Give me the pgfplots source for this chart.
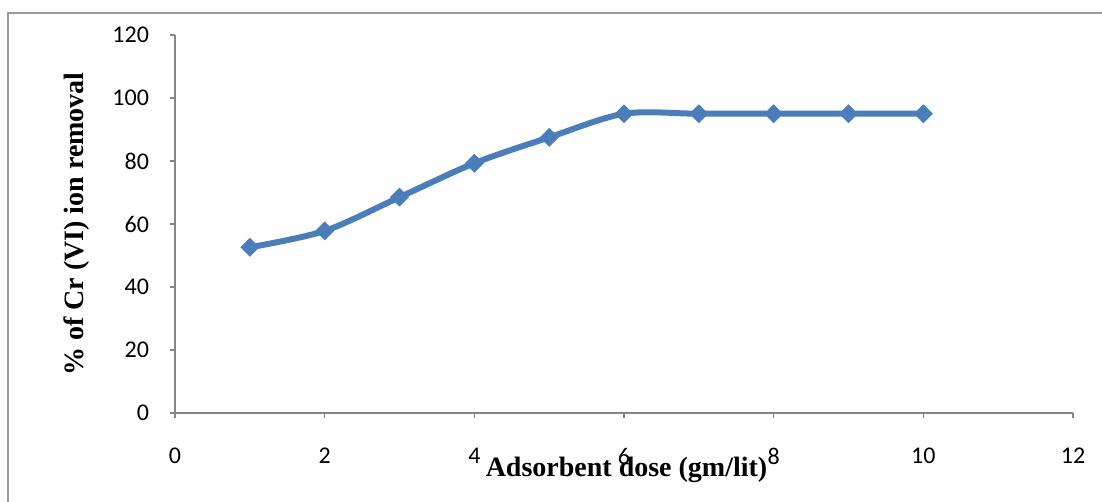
\documentclass[border=0pt]{standalone}
\usepackage{fontspec}
\setmainfont{Liberation Serif}
\newfontfamily\calib{Carlito}
\usepackage{pgfplots}
\pgfplotsset{compat=1.18}
\definecolor{lineblue}{RGB}{74,126,187}
\definecolor{axgray}{RGB}{134,134,134}
\definecolor{bordergray}{RGB}{155,155,155}
\begin{document}
\begin{tikzpicture}
\useasboundingbox (-87.5pt,-44.5pt) rectangle (463.5pt,206.5pt);
\draw[bordergray, line width=0.9pt] (-83.5pt,-60pt) -- (-83.5pt,200pt) -- (480pt,200pt);
\begin{axis}[
  at={(0,0)}, anchor=south west,
  scale only axis, width=449pt, height=189pt,
  xmin=0, xmax=12, ymin=0, ymax=120,
  xtick={0,2,...,12}, ytick={0,20,...,120},
  axis lines*=left,
  axis line style={axgray, line width=0.75pt},
  tick style={axgray, line width=0.75pt},
  tick align=outside, major tick length=2.5pt,
  /pgf/number format/assume math mode=true,
  tick label style={font=\calib\fontsize{12}{14}\selectfont, black},
  xticklabel style={yshift=-11.5pt},
  yticklabel style={xshift=-7pt},
  xlabel={Adsorbent dose (gm/lit)},
  ylabel={\% of Cr (VI) ion removal},
  every axis x label/.style={at={(axis description cs:0.5028,-0.1508)}, anchor=center, font=\bfseries\fontsize{14}{16}\selectfont},
  every axis y label/.style={at={(axis description cs:-0.1091,0.5)}, anchor=center, rotate=90, font=\bfseries\fontsize{14}{16}\selectfont},
]
\addplot[lineblue, line width=3pt, smooth, mark=square*, mark size=3.1pt, mark options={rotate=45, solid, fill=lineblue, draw=lineblue, line width=0.5pt}]
coordinates {
(1,52.6) (2,57.8) (3,68.5) (4,79.3) (5,87.5) (6,95) (7,95) (8,95) (9,95) (10,95)
};
\end{axis}
\end{tikzpicture}
\end{document}
